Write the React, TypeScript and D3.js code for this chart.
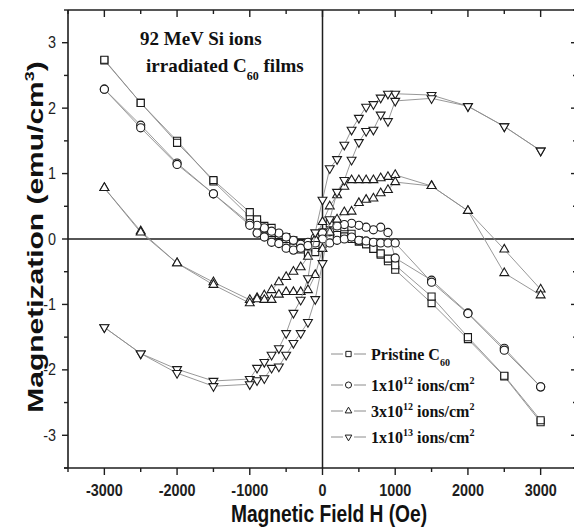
import React, { useEffect, useRef } from "react";
import * as d3 from "d3";

const W = 574;
const H = 527;

// field steps (Oe): up branch -3000 -> 3000, down branch 3000 -> -3000
const fieldUp = [-3000, -2500, -2000, -1500, -1000, -900, -800, -700, -600, -500, -400, -300, -200, -100, 0, 100, 200, 300, 400, 500, 600, 700, 800, 900, 1000, 1500, 2000, 2500, 3000];
const fieldDown = [3000, 2500, 2000, 1500, 1000, 900, 800, 700, 600, 500, 400, 300, 200, 100, 0, -100, -200, -300, -400, -500, -600, -700, -800, -900, -1000, -1500, -2000, -2500, -3000];

// magnetization (emu/cm3)
const pristineUp = [2.74, 2.08, 1.47, 0.9, 0.41, 0.3, 0.2, 0.17, 0.06, 0.03, -0.02, -0.06, -0.06, -0.03, 0.1, 0.24, 0.24, 0.18, 0.08, -0.02, -0.08, -0.15, -0.22, -0.3, -0.4, -0.88, -1.5, -2.09, -2.77];
const pristineDown = [-2.8, -2.1, -1.53, -0.98, -0.47, -0.34, -0.24, -0.15, -0.08, -0.04, 0.0, 0.04, 0.06, 0.03, -0.08, -0.2, -0.22, -0.16, -0.08, 0.0, 0.06, 0.09, 0.15, 0.24, 0.34, 0.88, 1.5, 2.08, 2.73];

const dose1e12Up = [2.29, 1.7, 1.14, 0.69, 0.21, 0.09, 0.03, -0.05, -0.07, -0.14, -0.17, -0.14, -0.1, -0.06, 0.0, -0.06, -0.02, 0.0, 0.03, -0.02, -0.03, -0.05, -0.06, -0.06, -0.06, -0.66, -1.14, -1.7, -2.26];
const dose1e12Down = [-2.26, -1.67, -1.13, -0.63, -0.29, 0.1, 0.18, 0.14, 0.18, 0.21, 0.24, 0.22, 0.2, 0.11, 0.09, 0.02, -0.05, -0.08, -0.02, 0.03, 0.09, 0.12, 0.17, 0.21, 0.24, 0.69, 1.16, 1.74, 2.29];

const dose3e12Up = [0.78, 0.1, -0.37, -0.7, -0.98, -0.92, -0.93, -0.93, -0.85, -0.81, -0.81, -0.81, -0.78, -0.55, -0.15, 0.1, 0.3, 0.41, 0.42, 0.55, 0.6, 0.62, 0.7, 0.75, 0.87, 0.81, 0.43, -0.52, -0.86];
const dose3e12Down = [-0.77, -0.16, 0.43, 0.81, 0.98, 0.95, 0.93, 0.9, 0.9, 0.9, 0.9, 0.8, 0.67, 0.5, 0.26, 0.0, -0.27, -0.43, -0.5, -0.58, -0.66, -0.78, -0.86, -0.9, -0.93, -0.66, -0.37, 0.12, 0.78];

const dose1e13Up = [-1.35, -1.75, -2.05, -2.25, -2.22, -2.16, -2.13, -1.97, -1.95, -1.77, -1.59, -1.44, -1.27, -0.92, -0.37, 0.3, 0.72, 0.9, 1.21, 1.48, 1.65, 1.67, 1.9, 1.8, 2.11, 2.15, 2.03, 1.72, 1.35];
const dose1e13Down = [1.35, 1.72, 2.03, 2.2, 2.22, 2.22, 2.16, 2.06, 2.02, 1.85, 1.67, 1.44, 1.22, 1.08, 0.6, 0.1, -0.6, -0.93, -1.13, -1.44, -1.67, -1.77, -1.88, -1.97, -2.14, -2.17, -1.99, -1.75, -1.35];

const markerTypes = ["square", "circle", "triUp", "triDown"];
const legendMain = ["Pristine C", "1x10", "3x10", "1x10"];
const legendExp = ["60", "12", "12", "13"];
const legendTail = ["", " ions/cm", " ions/cm", " ions/cm"];

const xMajorTicks = [-3000, -2000, -1000, 0, 1000, 2000, 3000];
const xMinorTicks = [-3500, -2500, -1500, -500, 500, 1500, 2500, 3500];
const yMajorTicks = [-3, -2, -1, 0, 1, 2, 3];
const yMinorTicks = [-3.5, -2.5, -1.5, -0.5, 0.5, 1.5, 2.5, 3.5];

const SANS = "'Liberation Sans', Arial, sans-serif";
const SERIF = "'Liberation Serif', 'Times New Roman', serif";

const markerPath = (type: string, scale = 1) => {
  if (type === "square") return d3.symbol(d3.symbolSquare, 50 * scale * scale)()!;
  if (type === "circle") return d3.symbol(d3.symbolCircle, 52 * scale * scale)()!;
  return d3.symbol(d3.symbolTriangle, 34 * scale * scale)()!;
};

const App = () => {
  const svgRef = useRef<SVGSVGElement>(null);

  useEffect(() => {
    document.body.style.margin = "0";
    const svg = d3.select(svgRef.current);
    svg.selectAll("*").remove();

    const x = d3.scaleLinear().domain([-3500, 3500]).range([68, 577]);
    const y = d3.scaleLinear().domain([-3.5, 3.5]).range([468, 10]);

    const series = [
      [pristineUp, pristineDown],
      [dose1e12Up, dose1e12Down],
      [dose3e12Up, dose3e12Down],
      [dose1e13Up, dose1e13Down],
    ].map(([up, down], i) => ({
      type: markerTypes[i],
      points: [
        ...fieldDown.map((h, j) => [h, down[j]] as [number, number]),
        ...fieldUp.map((h, j) => [h, up[j]] as [number, number]),
      ],
    }));

    // frame
    const g = svg.append("g");
    g.append("line").attr("x1", 68).attr("x2", 577).attr("y1", 10).attr("y2", 10);
    g.append("line").attr("x1", 68).attr("x2", 68).attr("y1", 10).attr("y2", 468);
    g.append("line").attr("x1", 64).attr("x2", 577).attr("y1", 468).attr("y2", 468);
    g.append("line").attr("x1", 577).attr("x2", 577).attr("y1", 10).attr("y2", 468);
    g.selectAll("line").attr("stroke", "#1e1e1e").attr("stroke-width", 1.6);

    // zero lines
    svg.append("line").attr("x1", 68).attr("x2", 577).attr("y1", y(0)).attr("y2", y(0))
      .attr("stroke", "#1e1e1e").attr("stroke-width", 1.5);
    svg.append("line").attr("x1", x(0)).attr("x2", x(0)).attr("y1", 10).attr("y2", 468)
      .attr("stroke", "#1e1e1e").attr("stroke-width", 1.5);

    // ticks: bottom/left out, top/right in
    const ticks = svg.append("g").attr("stroke", "#1e1e1e").attr("stroke-width", 1.4);
    const xt = [...xMajorTicks.map(v => [v, 7]), ...xMinorTicks.map(v => [v, 4])];
    const yt = [...yMajorTicks.map(v => [v, 6]), ...yMinorTicks.map(v => [v, 4])];
    xt.forEach(([v, len]) => {
      ticks.append("line").attr("x1", x(v)).attr("x2", x(v)).attr("y1", 468).attr("y2", 468 + len);
      ticks.append("line").attr("x1", x(v)).attr("x2", x(v)).attr("y1", 10).attr("y2", 10 + len);
    });
    yt.forEach(([v, len]) => {
      ticks.append("line").attr("x1", 68 - len).attr("x2", 68).attr("y1", y(v)).attr("y2", y(v));
      ticks.append("line").attr("x1", 577 - len).attr("x2", 577).attr("y1", y(v)).attr("y2", y(v));
    });

    // tick labels
    svg.selectAll(".xlab").data(xMajorTicks).enter().append("text")
      .attr("transform", d => `translate(${x(d)},496) scale(0.9,1)`)
      .attr("text-anchor", "middle")
      .style("font", `bold 16px ${SANS}`)
      .attr("fill", "#1e1e1e")
      .text(d => String(d));
    svg.selectAll(".ylab").data(yMajorTicks).enter().append("text")
      .attr("transform", d => `translate(56,${y(d) + 5.5}) scale(0.9,1)`)
      .attr("text-anchor", "end")
      .style("font", `16px ${SANS}`)
      .attr("fill", "#1e1e1e")
      .text(d => String(d));

    // axis titles
    svg.append("text")
      .attr("transform", "translate(329,522) scale(0.8,1)")
      .attr("text-anchor", "middle")
      .style("font", `bold 24px ${SANS}`)
      .attr("fill", "#111")
      .text("Magnetic Field H (Oe)");
    const yTitle = svg.append("text")
      .attr("transform", "translate(43,237) rotate(-90) scale(1,0.72)")
      .attr("text-anchor", "middle")
      .style("font", `bold 30px ${SANS}`)
      .attr("fill", "#111");
    yTitle.append("tspan").text("Magnetization (emu/cm");
    yTitle.append("tspan").attr("dy", -12).style("font-size", "18px").text("3");
    yTitle.append("tspan").attr("dy", 12).text(")");

    // data
    const line = d3.line<[number, number]>().x(d => x(d[0])).y(d => y(d[1]));
    series.forEach(s => {
      svg.append("path").attr("d", line(s.points)!)
        .attr("fill", "none").attr("stroke", "#8c8c8c").attr("stroke-width", 0.9);
      svg.append("g").selectAll("path").data(s.points).enter().append("path")
        .attr("d", markerPath(s.type))
        .attr("transform", d => `translate(${x(d[0])},${y(d[1])})${s.type === "triDown" ? " rotate(180)" : ""}`)
        .attr("fill", "#fff").attr("stroke", "#1a1a1a").attr("stroke-width", 1.1);
    });

    // inset title
    const t1 = svg.append("text").attr("x", 140).attr("y", 45)
      .style("font", `bold 19px ${SERIF}`).attr("fill", "#111");
    t1.text("92 MeV Si ions");
    const t2 = svg.append("text").attr("x", 146).attr("y", 72)
      .style("font", `bold 19px ${SERIF}`).attr("fill", "#111");
    t2.append("tspan").text("irradiated C");
    t2.append("tspan").attr("dy", 8).style("font-size", "12px").text("60");
    t2.append("tspan").attr("dy", -8).text(" films");

    // legend
    const legendY = [360, 391, 417, 443];
    legendY.forEach((by, i) => {
      const cy = by - 6;
      const lg = svg.append("g");
      lg.append("line").attr("x1", 331).attr("x2", 343).attr("y1", cy).attr("y2", cy);
      lg.append("line").attr("x1", 354).attr("x2", 366).attr("y1", cy).attr("y2", cy);
      lg.selectAll("line").attr("stroke", "#8c8c8c").attr("stroke-width", 1);
      lg.append("path").attr("d", markerPath(markerTypes[i], 0.75))
        .attr("transform", `translate(348.5,${cy})${markerTypes[i] === "triDown" ? " rotate(180)" : ""}`)
        .attr("fill", "#fff").attr("stroke", "#1a1a1a").attr("stroke-width", 1);
      const tx = lg.append("text").attr("x", 371).attr("y", by)
        .style("font", `bold 16px ${SERIF}`).attr("fill", "#111");
      tx.append("tspan").text(legendMain[i]);
      if (i === 0) {
        tx.append("tspan").attr("dy", 6).style("font-size", "10px").text(legendExp[i]);
      } else {
        tx.append("tspan").attr("dy", -7).style("font-size", "10px").text(legendExp[i]);
        tx.append("tspan").attr("dy", 7).text(legendTail[i]);
        tx.append("tspan").attr("dy", -7).style("font-size", "10px").text("2");
      }
    });
  }, []);

  return <svg ref={svgRef} width={W} height={H} style={{ display: "block", background: "#fff" }} />;
};

export default App;
